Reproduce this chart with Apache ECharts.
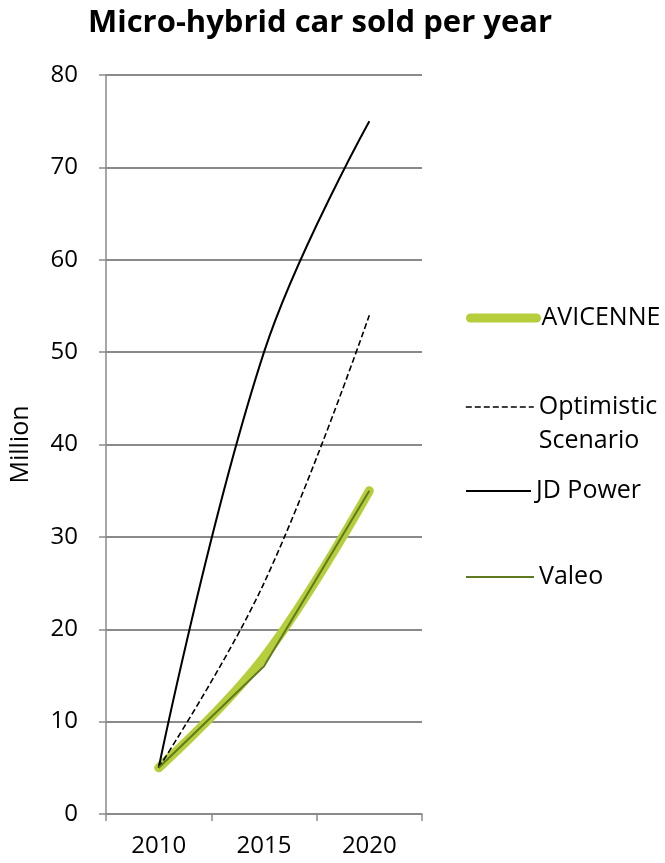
<!DOCTYPE html>
<html>
<head>
<meta charset="utf-8">
<script src="https://cdn.jsdelivr.net/npm/echarts@6/dist/echarts.min.js"></script>
<style>
  html, body { margin: 0; padding: 0; background: #fff; }
  #chart { width: 665px; height: 863px; }
</style>
</head>
<body>
<div id="chart"></div>
<script>
var years = ['2010', '2015', '2020'];
var avicenne = [5, 17, 35];
var optimistic = [5, 25, 54];
var jdPower = [5, 50, 75];
var valeo = [5, 16, 35];

var fontName = 'Open Sans';
var gridColor = '#8a8a8a';

// one legend per item, Excel places them at fixed heights
function legendItem(name, top, left, width, lineStyle, fmt) {
    return {
        data: [name],
        top: top,
        left: left,
        itemWidth: width,
        itemHeight: 14,
        selectedMode: false,
        itemStyle: { opacity: 0 },
        lineStyle: lineStyle,
        formatter: fmt || '{name}',
        textStyle: { fontFamily: fontName, fontSize: 25, color: '#000', lineHeight: 34 }
    };
}

var dom = document.getElementById('chart');
var myChart = echarts.init(dom);

var option = {
    animation: false,
    title: {
        text: 'Micro-hybrid car sold per year',
        left: 315,
        textAlign: 'center',
        top: 3,
        textStyle: { fontFamily: fontName, fontSize: 31, fontWeight: 'bold', color: '#000' }
    },
    legend: [
        legendItem('AVICENNE', 296, 461, 66, { width: 9, color: '#b6ce3b', cap: 'round' }),
        legendItem('Optimistic Scenario', 351, 460, 68, { width: 1.6, color: '#000', type: [6, 3] },
            function () { return '\nOptimistic\nScenario'; }),
        legendItem('JD Power', 469, 460, 65, { width: 2, color: '#000' }),
        legendItem('Valeo', 555, 460, 68, { width: 2, color: '#5f7a1f' })
    ],
    grid: {
        left: 106,
        right: 243,
        top: 75,
        bottom: 49,
        outerBoundsMode: 'none'
    },
    xAxis: {
        type: 'category',
        data: years,
        boundaryGap: true,
        axisLine: { lineStyle: { color: gridColor, width: 1.5 } },
        axisTick: { show: true, length: 7, lineStyle: { color: gridColor, width: 1.5 } },
        axisLabel: { fontFamily: fontName, fontSize: 24, color: '#000', margin: 20 }
    },
    yAxis: {
        type: 'value',
        min: 0,
        max: 80,
        interval: 10,
        name: 'Million',
        nameLocation: 'middle',
        nameRotate: 90,
        nameGap: 73,
        nameTextStyle: { fontFamily: fontName, fontSize: 25, color: '#000' },
        axisLine: { show: true, lineStyle: { color: gridColor, width: 1.5 } },
        axisTick: { show: true, length: 7, lineStyle: { color: gridColor, width: 1.5 } },
        axisLabel: { fontFamily: fontName, fontSize: 24, color: '#000', margin: 28 },
        splitLine: { lineStyle: { color: gridColor, width: 1.8 } }
    },
    series: [
        {
            name: 'AVICENNE',
            type: 'line',
            data: avicenne,
            smooth: 0.4,
            symbol: 'none',
            lineStyle: { width: 9, color: '#b6ce3b', cap: 'round', join: 'round' },
            itemStyle: { color: '#b6ce3b' }
        },
        {
            name: 'Optimistic Scenario',
            type: 'line',
            data: optimistic,
            smooth: 0.4,
            symbol: 'none',
            lineStyle: { width: 1.6, color: '#000', type: [6, 3] },
            itemStyle: { color: '#000' }
        },
        {
            name: 'JD Power',
            type: 'line',
            data: jdPower,
            smooth: 0.4,
            symbol: 'none',
            lineStyle: { width: 2, color: '#000' },
            itemStyle: { color: '#000' }
        },
        {
            name: 'Valeo',
            type: 'line',
            data: valeo,
            symbol: 'none',
            lineStyle: { width: 2, color: '#5f7a1f' },
            itemStyle: { color: '#5f7a1f' }
        }
    ]
};

myChart.setOption(option);
</script>
</body>
</html>
